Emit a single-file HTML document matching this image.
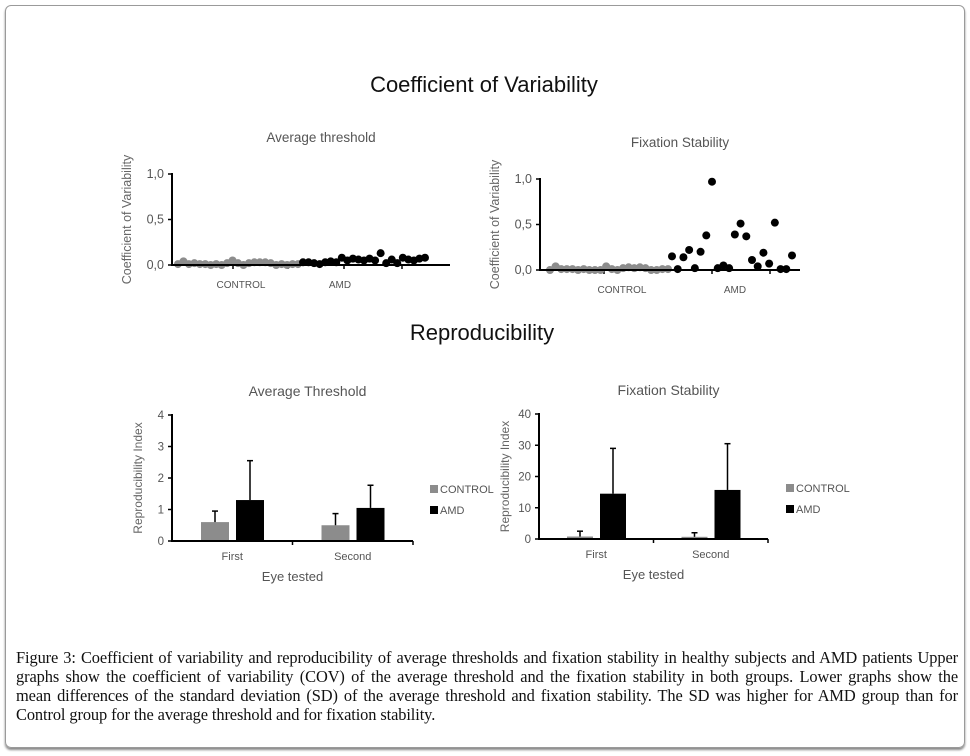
<!DOCTYPE html>
<html><head><meta charset="utf-8"><style>
body{margin:0;background:#fff;width:970px;height:756px;overflow:hidden;font-family:"Liberation Sans",sans-serif}
#frame{position:absolute;left:5px;top:5px;width:958px;height:741px;border:1px solid #9a9a9a;border-radius:6px;box-shadow:0 2px 2px #888}
#caption{position:absolute;left:16px;top:648px;width:942px;font-family:"Liberation Serif",serif;font-size:16.4px;line-height:19px;color:#111;letter-spacing:-0.1px}
#caption span{display:block;white-space:nowrap;text-align:justify;text-align-last:justify}
#caption span.last{text-align-last:left}
</style></head><body>
<div id="frame"></div>
<svg id="svg" width="970" height="756" style="position:absolute;left:0;top:0"
 font-family="'Liberation Sans',sans-serif">
<text x="484" y="92" font-size="22" text-anchor="middle" fill="#111">Coefficient of Variability</text>
<text x="482" y="340" font-size="22" text-anchor="middle" fill="#111">Reproducibility</text>
</svg>
<div id="caption"><span>Figure 3: Coefficient of variability and reproducibility of average thresholds and fixation stability in healthy subjects and AMD patients Upper</span><span>graphs show the coefficient of variability (COV) of the average threshold and the fixation stability in both groups. Lower graphs show the</span><span>mean differences of the standard deviation (SD) of the average threshold and fixation stability. The SD was higher for AMD group than for</span><span class="last">Control group for the average threshold and for fixation stability.</span></div>
<script>
// --- data ---
const covTicks=["0,0","0,5","1,0"];
const covTickVals=[0,0.5,1];
const avgControl=[0.01,0.04,0.01,0.02,0.01,0.01,0.0,0.01,0.0,0.02,0.05,0.02,0.0,0.02,0.03,0.03,0.03,0.02,0.0,0.01,0.0,0.01,0.01];
const avgAMD=[0.03,0.03,0.02,0.01,0.03,0.04,0.03,0.08,0.05,0.07,0.06,0.05,0.07,0.05,0.13,0.02,0.06,0.02,0.08,0.06,0.05,0.07,0.08];
const fixControl=[0.0,0.04,0.01,0.01,0.01,0.0,0.01,0.0,0.0,0.0,0.04,0.01,0.0,0.02,0.03,0.02,0.03,0.02,0.0,0.0,0.01,0.01];
const fixAMD=[0.15,0.01,0.14,0.22,0.02,0.2,0.38,0.97,0.02,0.05,0.02,0.39,0.51,0.37,0.11,0.04,0.19,0.07,0.52,0.01,0.01,0.16];
const eyeCats=["First","Second"];
const atControl=[0.6,0.5];
const atControlErr=[0.35,0.37];
const atAMD=[1.3,1.05];
const atAMDErr=[1.25,0.72];
const atTicks=[0,1,2,3,4];
const fsControl=[0.8,0.7];
const fsControlErr=[1.7,1.3];
const fsAMD=[14.5,15.7];
const fsAMDErr=[14.5,14.8];
const fsTicks=[0,10,20,30,40];

const svg=document.getElementById('svg');
const NS='http://www.w3.org/2000/svg';
function mk(tag,attrs,parent){const e=document.createElementNS(NS,tag);for(const k in attrs)e.setAttribute(k,attrs[k]);(parent||svg).appendChild(e);return e;}
function txt(x,y,s,size,anchor,fill,parent,rot){const e=mk('text',{x:x,y:y,'font-size':size,'text-anchor':anchor||'middle',fill:fill||'#555'},parent);if(rot)e.setAttribute('transform','rotate(-90 '+x+' '+y+')');e.textContent=s;return e;}

function scatter(cfg){
  const g=mk('g',{});
  
  
  const y=v=>cfg.y0-(v/cfg.max)*(cfg.y0-cfg.y1);
  txt((cfg.ax+cfg.xEnd)/2+10,cfg.titleY,cfg.title,13.5,'middle','#555',g);
  txt(cfg.ax-41,(cfg.y0+cfg.y1)/2,'Coefficient of Variability',12.5,'middle','#666',g,true);
  covTickVals.forEach((v,i)=>{
    const t=txt(cfg.ax-8,y(v)+4,covTicks[i],12.5,'end','#555',g);
    
    mk('line',{x1:cfg.ax-4,x2:cfg.ax,y1:y(v),y2:y(v),stroke:'#000','stroke-width':1.5},g);
  });
  cfg.xticks.forEach(x=>mk('line',{x1:x,x2:x,y1:cfg.y0,y2:cfg.y0+4,stroke:'#000','stroke-width':1.5},g));
  const dots=(arr,x0,x1,fill,name)=>{
    const step=(x1-x0)/(arr.length-1);
    arr.forEach((v,i)=>{
      const c=mk('circle',{cx:x0+i*step,cy:y(v),r:4,fill:fill},g);
      
      
    });
  };
  dots(cfg.c,cfg.cx0,cfg.cx1,'#8c8c8c','control-point');
  dots(cfg.a,cfg.ax0,cfg.ax1,'#000','amd-point');
  mk('line',{x1:cfg.ax,x2:cfg.ax,y1:cfg.y1-1,y2:cfg.y0+1,stroke:'#000','stroke-width':2},g);
  mk('line',{x1:cfg.ax,x2:cfg.xEnd,y1:cfg.y0,y2:cfg.y0,stroke:'#000','stroke-width':2},g);
  txt(cfg.ctlX,cfg.y0+23,'CONTROL',10,'middle','#555',g);
  txt(cfg.amdX,cfg.y0+23,'AMD',10,'middle','#555',g);
}
scatter({name:'cov-average-threshold-chart',title:'Average threshold',titleY:142,ax:172,xEnd:450,y0:265,y1:174,max:1,
  c:avgControl,a:avgAMD,cx0:178,cx1:298,ax0:303,ax1:425,xticks:[233,288,344,402],ctlX:241,amdX:340});
scatter({name:'cov-fixation-stability-chart',title:'Fixation Stability',titleY:147,ax:540,xEnd:800,y0:270,y1:179,max:1,
  c:fixControl,a:fixAMD,cx0:550,cx1:668,ax0:672,ax1:792,xticks:[604,712,770],ctlX:622,amdX:735});

function bars(cfg){
  const g=mk('g',{});
  
  
  const max=cfg.ticks[cfg.ticks.length-1];
  const y=v=>cfg.y0-(v/max)*(cfg.y0-cfg.y1);
  txt((cfg.ax+cfg.xEnd)/2+15,cfg.titleY,cfg.title,14,'middle','#555',g);
  txt(cfg.ax-30,(cfg.y0+cfg.y1)/2,'Reproducibility Index',12,'middle','#666',g,true);
  cfg.ticks.forEach(v=>{
    const t=txt(cfg.ax-8,y(v)+4,String(v),11.5,'end','#555',g);
    
    mk('line',{x1:cfg.ax-4,x2:cfg.ax,y1:y(v),y2:y(v),stroke:'#000','stroke-width':1.5},g);
  });
  const groupW=(cfg.xEnd-cfg.ax)/eyeCats.length;
  eyeCats.forEach((cat,i)=>{
    const gx=cfg.ax+groupW*i;
    const draw=(v,err,x,fill,name)=>{
      const r=mk('rect',{x:x,y:y(v),width:cfg.bw,height:cfg.y0-y(v),fill:fill},g);
      
      
      const cx=x+cfg.bw/2;
      mk('line',{x1:cx,x2:cx,y1:y(v),y2:y(v+err),stroke:'#000','stroke-width':1.5},g);
      mk('line',{x1:cx-3,x2:cx+3,y1:y(v+err),y2:y(v+err),stroke:'#000','stroke-width':1.5},g);
    };
    draw(cfg.c[i],cfg.ce[i],gx+cfg.off,'#8c8c8c','bar-control-'+cat.toLowerCase());
    draw(cfg.a[i],cfg.ae[i],gx+cfg.off+cfg.bw+cfg.gap,'#000','bar-amd-'+cat.toLowerCase());
    const l=txt(gx+groupW/2,cfg.y0+19,cat,11,'middle','#555',g);
    
    mk('line',{x1:gx+groupW,x2:gx+groupW,y1:cfg.y0,y2:cfg.y0+4,stroke:'#000','stroke-width':1.5},g);
  });
  mk('line',{x1:cfg.ax,x2:cfg.ax,y1:cfg.y1-1,y2:cfg.y0+1,stroke:'#000','stroke-width':2},g);
  mk('line',{x1:cfg.ax,x2:cfg.xEnd,y1:cfg.y0,y2:cfg.y0,stroke:'#000','stroke-width':2},g);
  txt((cfg.ax+cfg.xEnd)/2,cfg.y0+40,'Eye tested',13,'middle','#555',g);
  const lg=mk('g',{},g);
  
  
  mk('rect',{x:cfg.lx,y:cfg.ly-8,width:8,height:8,fill:'#8c8c8c'},lg);
  txt(cfg.lx+10,cfg.ly,'CONTROL',11,'start','#555',lg);
  mk('rect',{x:cfg.lx,y:cfg.ly+13,width:8,height:8,fill:'#000'},lg);
  txt(cfg.lx+10,cfg.ly+21,'AMD',11,'start','#555',lg);
}
bars({name:'reproducibility-average-threshold-chart',title:'Average Threshold',titleY:396,ax:172,xEnd:413,y0:541,y1:415,ticks:atTicks,
  c:atControl,ce:atControlErr,a:atAMD,ae:atAMDErr,bw:28,gap:7,off:29,lx:430,ly:493});
bars({name:'reproducibility-fixation-stability-chart',title:'Fixation Stability',titleY:395,ax:539,xEnd:768,y0:539,y1:414,ticks:fsTicks,
  c:fsControl,ce:fsControlErr,a:fsAMD,ae:fsAMDErr,bw:26,gap:7,off:28,lx:786,ly:492});
</script>
</body></html>
